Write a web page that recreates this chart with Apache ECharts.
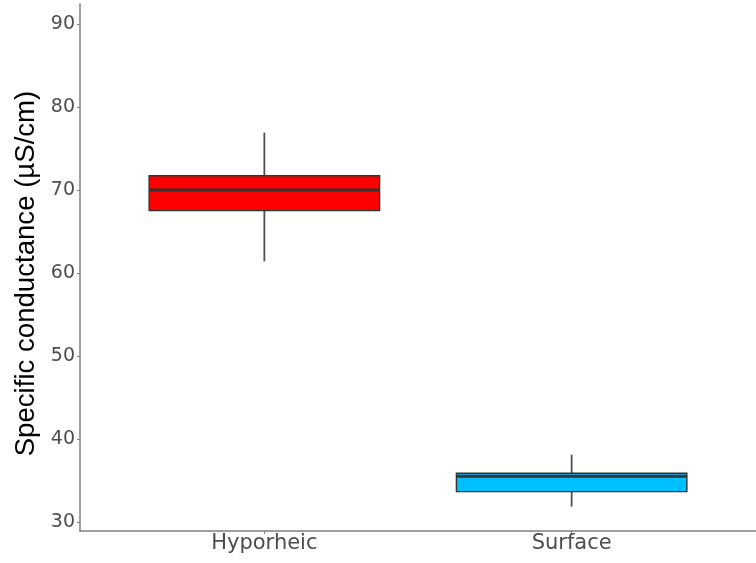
<!DOCTYPE html>
<html>
<head>
<meta charset="utf-8">
<script src="https://cdn.jsdelivr.net/npm/echarts@6/dist/echarts.min.js"></script>
<style>
  html, body { margin: 0; padding: 0; background: #ffffff; }
  #chart { width: 756px; height: 563px; }
</style>
</head>
<body>
<div id="chart"></div>
<script>
// Specific conductance by water source: box-and-whisker summary
const groups = ['Hyporheic', 'Surface'];
const whiskerLow = [61.4, 31.85];
const lowerQuartile = [67.5, 33.65];
const medianValue = [70.0, 35.5];
const upperQuartile = [71.7, 35.85];
const whiskerHigh = [76.9, 38.1];
const yTicks = [30, 40, 50, 60, 70, 80, 90];

const fills = ['#FF0000', '#00BFFF'];
const BOX_WIDTH = 0.75; // in x-axis units (one unit per group)

// [x position, low whisker, Q1, median, Q3, high whisker]
const boxData = groups.map((g, i) => [
  i + 1, whiskerLow[i], lowerQuartile[i], medianValue[i], upperQuartile[i], whiskerHigh[i]
]);

const chart = echarts.init(document.getElementById('chart'), null, { renderer: 'canvas' });

chart.setOption({
  backgroundColor: '#ffffff',
  animation: false,
  grid: { left: 80, right: 0, top: 4, bottom: 32, containLabel: false },
  xAxis: {
    type: 'value',
    min: 0.4,
    max: 2.6,
    splitLine: { show: false },
    axisLine: { show: true, lineStyle: { color: '#808080', width: 1.5 } },
    axisTick: { show: true, length: 3, customValues: groups.map((g, i) => i + 1),
                lineStyle: { color: '#808080', width: 1 } },
    axisLabel: {
      customValues: groups.map((g, i) => i + 1),
      formatter: v => groups[Math.round(v) - 1] || '',
      color: '#4d4d4d',
      fontFamily: 'DejaVu Sans',
      fontSize: 21,
      margin: 2
    }
  },
  yAxis: {
    type: 'value',
    min: 28.9,
    max: 92.4,
    splitLine: { show: false },
    axisLine: { show: true, lineStyle: { color: '#808080', width: 1.5 } },
    axisTick: { show: true, length: 3, customValues: yTicks,
                lineStyle: { color: '#808080', width: 1 } },
    axisLabel: {
      customValues: yTicks,
      color: '#4d4d4d',
      fontFamily: 'DejaVu Sans',
      fontSize: 19,
      margin: 5
    },
    name: 'Specific conductance (µS/cm)',
    nameLocation: 'middle',
    nameGap: 40,
    nameTextStyle: {
      color: '#000000',
      fontFamily: 'Liberation Sans',
      fontSize: 27.6,
      padding: [0, 12, 0, 0]
    }
  },
  series: [{
    type: 'custom',
    data: boxData,
    encode: { x: 0, y: [1, 2, 3, 4, 5] },
    renderItem: function (params, api) {
      const x = api.value(0);
      const lo = api.coord([x, api.value(1)]);
      const q1 = api.coord([x, api.value(2)]);
      const md = api.coord([x, api.value(3)]);
      const q3 = api.coord([x, api.value(4)]);
      const hi = api.coord([x, api.value(5)]);
      const half = api.size([BOX_WIDTH, 0])[0] / 2;
      const fill = fills[params.dataIndex];
      return {
        type: 'group',
        children: [
          { type: 'line', shape: { x1: lo[0], y1: lo[1], x2: hi[0], y2: hi[1] },
            style: { stroke: '#505050', lineWidth: 1.8 } },
          { type: 'rect', shape: { x: q3[0] - half, y: q3[1], width: 2 * half, height: q1[1] - q3[1] },
            style: { fill: fill, stroke: '#333333', lineWidth: 1.4 } },
          { type: 'line', shape: { x1: md[0] - half, y1: md[1], x2: md[0] + half, y2: md[1] },
            style: { stroke: '#333333', lineWidth: 3 } }
        ]
      };
    }
  }]
});
</script>
</body>
</html>
